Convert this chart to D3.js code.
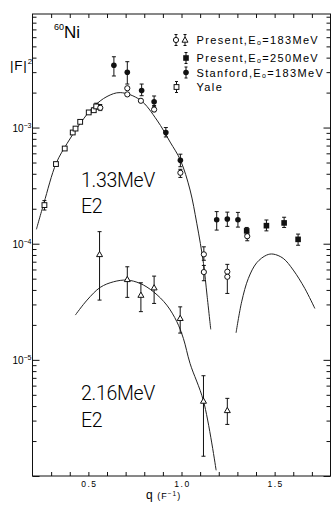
<!DOCTYPE html>
<html><head><meta charset="utf-8">
<script src="https://cdn.jsdelivr.net/npm/d3@7/dist/d3.min.js"></script>
<style>body{margin:0;background:#fff}svg{display:block}</style>
</head><body>
<svg id="c" width="331" height="506"></svg>
<script>
// ---------- DATA ----------
// Yale (open squares), 1.33 MeV E2
const yaleQ  = [0.264,0.326,0.373,0.416,0.431,0.456,0.502,0.529,0.542];
const yaleV  = [2.15e-4,4.85e-4,6.6e-4,9.07e-4,9.8e-4,1.12e-3,1.35e-3,1.41e-3,1.52e-3];
const yaleLo = [1.95e-4,null,null,null,null,null,null,null,1.44e-3];
const yaleHi = [2.35e-4,null,null,null,null,null,null,null,1.62e-3];

// Present, E0=183 MeV (open circles), 1.33 MeV E2
const pres183Q  = [0.564,0.709,0.709,0.782,0.853,0.994,1.120,1.120,1.246,1.246,1.353];
const pres183V  = [1.48e-3,2.18e-3,1.93e-3,1.70e-3,1.43e-3,4.08e-4,8.1e-5,5.7e-5,5.74e-5,5.19e-5,1.16e-4];
const pres183Lo = [1.40e-3,null,null,null,1.37e-3,3.72e-4,7.2e-5,4.8e-5,3.73e-5,null,1.06e-4];
const pres183Hi = [1.58e-3,null,null,null,1.55e-3,4.37e-4,9.4e-5,6.5e-5,6.64e-5,null,1.24e-4];

// Present, E0=183 MeV (open triangles), 2.16 MeV E2
const triQ  = [0.560,0.709,0.782,0.853,0.993,1.118,1.246];
const triV  = [8.09e-5,4.93e-5,3.61e-5,4.18e-5,2.28e-5,4.42e-6,3.67e-6];
const triLo = [3.27e-5,3.45e-5,2.60e-5,3.06e-5,1.70e-5,1.48e-6,2.78e-6];
const triHi = [1.27e-4,6.33e-5,4.61e-5,5.26e-5,2.86e-5,7.3e-6,4.66e-6];

// Present, E0=250 MeV (filled squares)
const pres250Q  = [1.350,1.456,1.551,1.626];
const pres250V  = [1.29e-4,1.43e-4,1.51e-4,1.09e-4];
const pres250Lo = [1.20e-4,1.29e-4,1.38e-4,9.7e-5];
const pres250Hi = [1.38e-4,1.60e-4,1.69e-4,1.21e-4];

// Stanford, E0=183 MeV (filled circles)
const stanQ  = [0.637,0.709,0.786,0.853,0.916,0.994,1.189,1.246,1.303];
const stanV  = [3.44e-3,2.99e-3,2.08e-3,1.67e-3,9.05e-4,5.22e-4,1.61e-4,1.63e-4,1.61e-4];
const stanLo = [2.78e-3,2.37e-3,1.88e-3,1.51e-3,8.3e-4,4.6e-4,1.31e-4,1.41e-4,1.39e-4];
const stanHi = [4.07e-3,3.69e-3,2.37e-3,1.87e-3,1.0e-3,5.9e-4,1.89e-4,1.87e-4,1.86e-4];

// Theoretical curves
const curveAQ = [0.221,0.261,0.327,0.386,0.457,0.528,0.600,0.671,0.778,0.868,0.939,0.994,1.046,1.082,1.118,1.137,1.157];
const curveAV = [1.33e-4,2.23e-4,4.92e-4,7.31e-4,1.09e-3,1.51e-3,1.85e-3,2.00e-3,1.73e-3,1.16e-3,7.5e-4,5.25e-4,2.90e-4,1.50e-4,6.77e-5,3.61e-5,1.83e-5];
const curveBQ = [1.293,1.323,1.359,1.404,1.457,1.492,1.546,1.600,1.662,1.716];
const curveBV = [1.71e-5,3.16e-5,5.03e-5,6.86e-5,7.98e-5,8.14e-5,7.48e-5,5.93e-5,4.12e-5,2.77e-5];
const curveCQ = [0.430,0.493,0.564,0.635,0.707,0.778,0.850,0.921,0.975,1.010,1.046,1.118,1.186];
const curveCV = [2.43e-5,3.27e-5,4.21e-5,4.70e-5,4.86e-5,4.55e-5,3.85e-5,2.96e-5,2.13e-5,1.53e-5,9.3e-6,4.42e-6,1.12e-6];

// Tick labels / texts
const xTickValues = [0.5,1.0,1.5];
const xTickLabels = ["0.5","1.0","1.5"];
const yLabelExps  = [-3,-4,-5];
const legendLabels = [["Present,E","o","=183MeV"],["Present,E","o","=250MeV"],["Stanford,E","o","=183MeV"],["Yale","",""]];
const transition1 = ["1.33MeV","E2"];
const transition2 = ["2.16MeV","E2"];

// ---------- DRAWING ----------
const svg = d3.select("#c");
const L=32.5, R=330.5, T=14, B=476;
const x = d3.scaleLinear().domain([0.2,1.8]).range([L,R]);
const y = d3.scaleLog().domain([1e-6,0.0095]).range([B,T]);
const FONT = "'Liberation Sans', Arial, sans-serif";

// frame
svg.append("rect").attr("x",L).attr("y",T).attr("width",R-L).attr("height",B-T)
  .attr("fill","none").attr("stroke","#111").attr("stroke-width",1);

// x ticks
const xt = d3.range(3,18).map(d=>d/10);
function clean(g){ g.select(".domain").remove(); g.selectAll("line").attr("stroke","#111"); g.selectAll("text").remove(); }
svg.append("g").attr("transform",`translate(0,${B})`).call(d3.axisBottom(x).tickValues(xt).tickSize(-4)).call(clean);
svg.append("g").attr("transform",`translate(0,${T})`).call(d3.axisTop(x).tickValues(xt).tickSize(-4)).call(clean);

// y ticks
const yMajor=[], yMinor=[];
for(let e=-6;e<=-3;e++){ for(let k=1;k<=9;k++){ const v=k*Math.pow(10,e); if(v>=1e-6&&v<=0.0095){ (k===1?yMajor:yMinor).push(v);} } }
svg.append("g").attr("transform",`translate(${L},0)`).call(d3.axisLeft(y).tickValues(yMajor).tickSize(-7)).call(clean);
svg.append("g").attr("transform",`translate(${L},0)`).call(d3.axisLeft(y).tickValues(yMinor).tickSize(-4)).call(clean);
svg.append("g").attr("transform",`translate(${R},0)`).call(d3.axisRight(y).tickValues(yMajor).tickSize(-7)).call(clean);
svg.append("g").attr("transform",`translate(${R},0)`).call(d3.axisRight(y).tickValues(yMinor).tickSize(-4)).call(clean);

// x tick labels
svg.selectAll("text.xl").data(xTickValues).enter().append("text")
  .attr("x",d=>x(d)+1).attr("y",B+11).attr("text-anchor","middle")
  .attr("font-family",FONT).attr("font-size",8.5).attr("letter-spacing",1.5)
  .text((d,i)=>xTickLabels[i]);

// x axis title
const xtitle = svg.append("text").attr("x",x(0.81)).attr("y",B+23).attr("text-anchor","start")
  .attr("font-family",FONT).attr("font-size",12).attr("letter-spacing",1);
xtitle.append("tspan").text("q");
xtitle.append("tspan").attr("font-size",9).text(" (F");
xtitle.append("tspan").attr("dy",-3.5).attr("font-size",6.5).text("−1");
xtitle.append("tspan").attr("dy",3.5).attr("font-size",9).text(")");

// y tick labels
yLabelExps.forEach(e=>{
  const t = svg.append("text").attr("x",L-1).attr("y",y(Math.pow(10,e))+4).attr("text-anchor","end")
    .attr("font-family",FONT).attr("font-size",10);
  t.append("tspan").text("10");
  t.append("tspan").attr("dy",-4).attr("font-size",7).text("−"+(-e));
});

// y axis title |F|^2
const yt = svg.append("text").attr("x",10).attr("y",70).attr("font-family",FONT).attr("font-size",13.5).attr("letter-spacing",0.8);
yt.append("tspan").text("|F|");
yt.append("tspan").attr("dy",-6).attr("font-size",8).text("2");

// 60Ni
const ni = svg.append("text").attr("x",54).attr("y",38).attr("font-family",FONT).attr("font-size",17);
ni.append("tspan").attr("font-size",9).attr("dy",-8).text("60");
ni.append("tspan").attr("dy",8).text("Ni");

// curves
const line = d3.line().x(d=>x(d[0])).y(d=>y(d[1])).curve(d3.curveCatmullRom.alpha(0.5));
[[curveAQ,curveAV],[curveBQ,curveBV],[curveCQ,curveCV]].forEach(([q,v])=>{
  svg.append("path").attr("d",line(q.map((d,i)=>[d,v[i]])))
    .attr("fill","none").attr("stroke","#222").attr("stroke-width",1);
});

// error bars
function errBars(Q,Lo,Hi){
  Q.forEach((q,i)=>{
    if(Lo[i]==null) return;
    const g=svg.append("g").attr("stroke","#111").attr("stroke-width",1);
    const cx=x(q);
    g.append("line").attr("x1",cx).attr("x2",cx).attr("y1",y(Lo[i])).attr("y2",y(Hi[i]));
    g.append("line").attr("x1",cx-2).attr("x2",cx+2).attr("y1",y(Lo[i])).attr("y2",y(Lo[i]));
    g.append("line").attr("x1",cx-2).attr("x2",cx+2).attr("y1",y(Hi[i])).attr("y2",y(Hi[i]));
  });
}
errBars(yaleQ,yaleLo,yaleHi);
errBars(pres183Q,pres183Lo,pres183Hi);
errBars(triQ,triLo,triHi);
errBars(pres250Q,pres250Lo,pres250Hi);
errBars(stanQ,stanLo,stanHi);

// marker shapes
function marker(g,type,cx,cy){
  if(type==="oc") g.append("circle").attr("cx",cx).attr("cy",cy).attr("r",2.6).attr("fill","#fff").attr("stroke","#111").attr("stroke-width",1);
  if(type==="fc") g.append("circle").attr("cx",cx).attr("cy",cy).attr("r",2.8).attr("fill","#111");
  if(type==="os") g.append("rect").attr("x",cx-2.4).attr("y",cy-2.4).attr("width",4.8).attr("height",4.8).attr("fill","#fff").attr("stroke","#111").attr("stroke-width",1);
  if(type==="fs") g.append("rect").attr("x",cx-2.8).attr("y",cy-2.8).attr("width",5.6).attr("height",5.6).attr("fill","#111");
  if(type==="ot") g.append("path").attr("d",`M${cx},${cy-3}L${cx+3},${cy+2.2}L${cx-3},${cy+2.2}Z`).attr("fill","#fff").attr("stroke","#111").attr("stroke-width",1);
}
function plot(Q,V,type){ const g=svg.append("g"); Q.forEach((q,i)=>marker(g,type,x(q),y(V[i]))); }
plot(yaleQ,yaleV,"os");
plot(pres183Q,pres183V,"oc");
plot(triQ,triV,"ot");
plot(pres250Q,pres250V,"fs");
plot(stanQ,stanV,"fc");

// legend
const legendTypes=[["oc","ot"],["fs"],["fc"],["os"]];
const lg = svg.append("g");
const rowY = i => 40 + (i===0?0:18 + (i-1)*14.5);
legendLabels.forEach((lab,i)=>{
  const cy=rowY(i);
  const types=legendTypes[i];
  const xs = types.length===2 ? [176,185] : (types[0]==="os"?[176.5]:[186]);
  types.forEach((tp,j)=>{
    const g=lg.append("g");
    g.append("line").attr("x1",xs[j]).attr("x2",xs[j]).attr("y1",cy-5.5).attr("y2",cy+5.5).attr("stroke","#111");
    g.append("line").attr("x1",xs[j]-1.5).attr("x2",xs[j]+1.5).attr("y1",cy-5.5).attr("y2",cy-5.5).attr("stroke","#111");
    g.append("line").attr("x1",xs[j]-1.5).attr("x2",xs[j]+1.5).attr("y1",cy+5.5).attr("y2",cy+5.5).attr("stroke","#111");
    marker(g,tp,xs[j],cy);
  });
  const t=lg.append("text").attr("x",196.5).attr("y",cy+4).attr("font-family",FONT).attr("font-size",11).attr("letter-spacing",1.35);
  t.append("tspan").text(lab[0]);
  if(lab[1]) t.append("tspan").attr("font-size",7).attr("dy",1).text(lab[1]);
  if(lab[2]) t.append("tspan").attr("dy",-1).text(lab[2]);
});

// transition labels
function bigLabel(lines,x0,y0,y1){
  [y0,y1].forEach((yy,i)=>{
    svg.append("text").attr("x",x0).attr("y",yy).attr("font-family","Roboto, 'Liberation Sans', sans-serif")
      .attr("font-weight",300).attr("font-size",19.5).attr("letter-spacing",-0.3).text(lines[i]);
  });
}
bigLabel(transition1,81,187,213);
bigLabel(transition2,81,400,427);
</script>
</body></html>
